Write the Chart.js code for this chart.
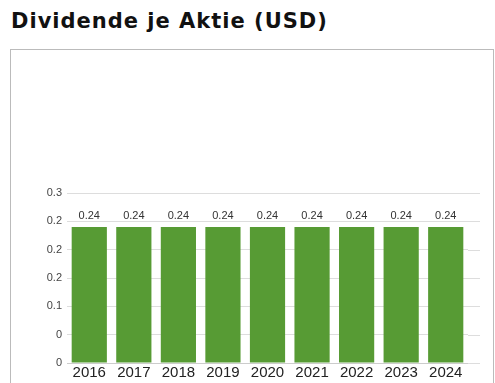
<!DOCTYPE html>
<html>
<head>
<meta charset="utf-8">
<script src="https://cdn.jsdelivr.net/npm/chart.js@4/dist/chart.umd.min.js"></script>
<style>
    body { margin: 0; background: #fff; overflow: hidden; }
    h2 {
        position: absolute; left: 11px; top: 9px; margin: 0; line-height: 24px;
        font-family: "DejaVu Sans", sans-serif; font-weight: bold; font-size: 21px;
        letter-spacing: 1px; color: #111;
    }
    #box {
        position: absolute; left: 10px; top: 49px; width: 484px; height: 360px;
        box-sizing: border-box; border: 1px solid #bbb; background: #fff;
    }
    #chart { position: absolute; left: 0; top: 0; }
</style>
</head>
<body>
<h2>Dividende je Aktie (USD)</h2>
<div id="box"><canvas id="chart" width="482" height="343"></canvas></div>
<script>
let years = ["2016", "2017", "2018", "2019", "2020", "2021", "2022", "2023", "2024"];
let dividend = [0.24, 0.24, 0.24, 0.24, 0.24, 0.24, 0.24, 0.24, 0.24];
let yTickLabels = ["0", "0", "0.1", "0.2", "0.2", "0.2", "0.3"];

// Wert über jedem Balken
let valueLabels = {
    id: "valueLabels",
    afterDatasetsDraw(chart) {
        let ctx = chart.ctx;
        let meta = chart.getDatasetMeta(0);
        ctx.save();
        ctx.font = "11px Arial";
        ctx.fillStyle = "#333";
        ctx.textAlign = "center";
        ctx.textBaseline = "bottom";
        meta.data.forEach((bar, i) => {
            ctx.fillText(dividend[i].toFixed(2), bar.x, bar.y - 6);
        });
        ctx.restore();
    }
};

// Gitterlinien ein Stück über die Balken hinaus verlängern
let gridTail = {
    id: "gridTail",
    beforeDatasetsDraw(chart) {
        let ctx = chart.ctx;
        let area = chart.chartArea;
        let y = chart.scales.y;
        ctx.save();
        ctx.strokeStyle = "#ddd";
        ctx.lineWidth = 1;
        y.ticks.forEach(t => {
            let py = Math.round(y.getPixelForValue(t.value)) + 0.5;
            ctx.beginPath();
            ctx.moveTo(area.right, py);
            ctx.lineTo(area.right + 12, py);
            ctx.stroke();
        });
        ctx.restore();
    }
};

new Chart(document.getElementById("chart"), {
    type: "bar",
    data: {
        labels: years,
        datasets: [{
            data: dividend,
            backgroundColor: "#579b34",
            barPercentage: 0.79,
            categoryPercentage: 1
        }]
    },
    options: {
        responsive: false,
        animation: false,
        layout: { padding: { top: 143, right: 25, left: 0, bottom: 0 } },
        plugins: { legend: { display: false }, tooltip: { enabled: false } },
        scales: {
            x: {
                grid: { display: false, drawTicks: false },
                border: { display: true, color: "#ccc" },
                ticks: { font: { family: "Arial", size: 15 }, color: "#222", padding: 1 },
                afterFit(scale) { scale.height = 30; }
            },
            y: {
                min: 0,
                max: 0.3,
                grid: { color: "#ddd", drawTicks: false },
                border: { display: false },
                ticks: {
                    stepSize: 0.05,
                    font: { family: "Arial", size: 11 },
                    color: "#444",
                    padding: 5,
                    callback: (v, i) => yTickLabels[i]
                },
                afterFit(scale) { scale.width = 56; }
            }
        }
    },
    plugins: [valueLabels, gridTail]
});
</script>
</body>
</html>
